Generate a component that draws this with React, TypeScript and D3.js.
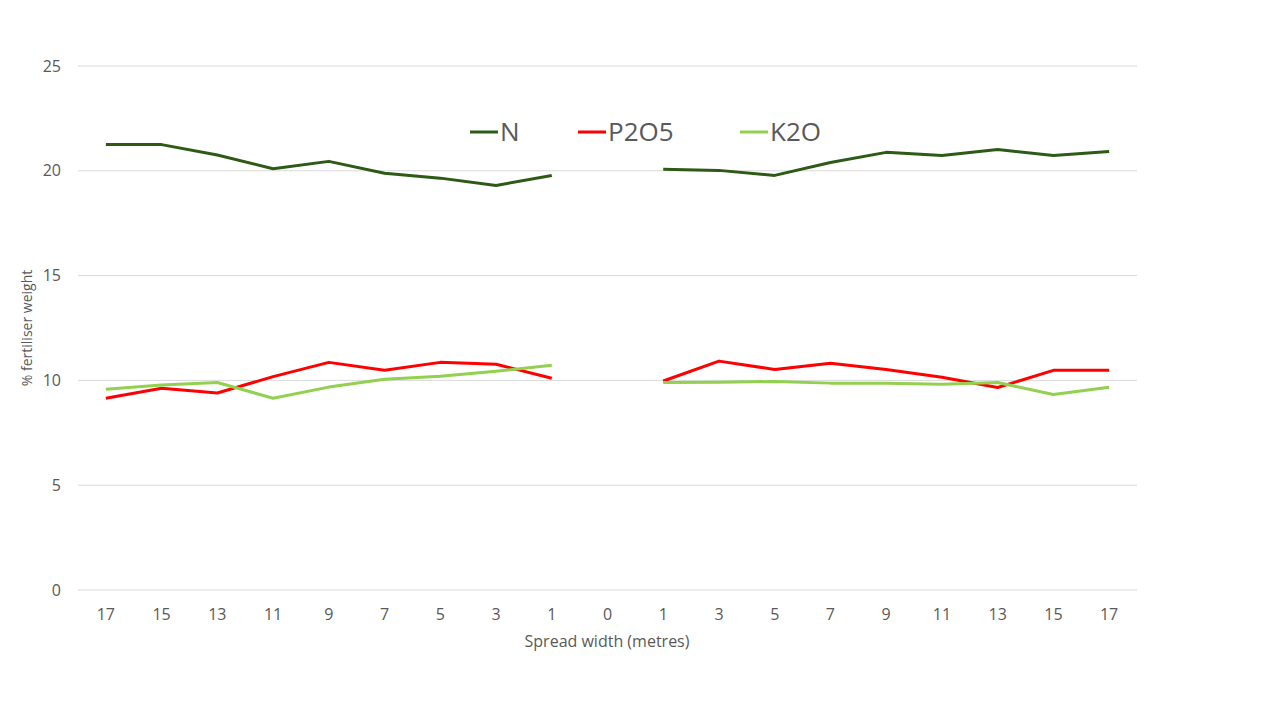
import * as d3 from "d3";

const categories = ["17L","15L","13L","11L","9L","7L","5L","3L","1L","0","1R","3R","5R","7R","9R","11R","13R","15R","17R"];
const tickLabels = ["17","15","13","11","9","7","5","3","1","0","1","3","5","7","9","11","13","15","17"];
const nValues = [21.25,21.25,20.75,20.1,20.45,19.88,19.65,19.3,19.78,null,20.07,20.02,19.78,20.4,20.88,20.73,21.02,20.73,20.92];
const p2o5Values = [9.15,9.63,9.4,10.18,10.86,10.48,10.86,10.77,10.1,null,9.97,10.92,10.52,10.82,10.52,10.15,9.66,10.48,10.48];
const k2oValues = [9.58,9.78,9.9,9.15,9.68,10.05,10.2,10.44,10.72,null,9.9,9.91,9.95,9.87,9.86,9.82,9.9,9.33,9.67];
const yTicks = [0,5,10,15,20,25];

const series = [
  { name: "N", values: nValues, color: "#2d5a14" },
  { name: "P2O5", values: p2o5Values, color: "#ff0000" },
  { name: "K2O", values: k2oValues, color: "#92d050" },
];

export default function App() {
  const W = 1280, H = 720;
  const left = 78, right = 1137, top = 66, bottom = 590;
  const x = d3.scaleBand<string>().domain(categories).range([left, right]);
  const y = d3.scaleLinear().domain([0, 25]).range([bottom, top]);
  const font = "'Open Sans', sans-serif";
  const line = d3.line<number | null>()
    .defined((d) => d !== null)
    .x((_, i) => x(categories[i])! + x.bandwidth() / 2)
    .y((d) => y(d as number));
  const legendX = [470, 578, 740];
  return (
    <svg width={W} height={H} style={{ position: "absolute", left: 0, top: 0, background: "#fff" }}>
      {yTicks.map((t) => (
        <g key={t}>
          <line x1={left} x2={right} y1={y(t)} y2={y(t)} stroke="#d9d9d9" strokeWidth={1} />
          <text x={61} y={y(t)} dy="0.35em" textAnchor="end" fontSize={16} fill="#595959" fontFamily={font}>{t}</text>
        </g>
      ))}
      {categories.map((c, i) => (
        <text key={c} x={x(c)! + x.bandwidth() / 2} y={614} dy="0.35em" textAnchor="middle" fontSize={16} fill="#595959" fontFamily={font}>{tickLabels[i]}</text>
      ))}
      {series.map((s) => (
        <path key={s.name} d={line(s.values) ?? ""} fill="none" stroke={s.color} strokeWidth={3} strokeLinejoin="round" />
      ))}
      {series.map((s, i) => (
        <g key={s.name}>
          <line x1={legendX[i]} x2={legendX[i] + 28} y1={132} y2={132} stroke={s.color} strokeWidth={3} />
          <text x={legendX[i] + 30} y={132} dy="0.35em" fontSize={26} fill="#595959" fontFamily={font}>{s.name}</text>
        </g>
      ))}
      <text x={607} y={641} dy="0.35em" textAnchor="middle" fontSize={16} fill="#595959" fontFamily={font}>Spread width (metres)</text>
      <text transform="translate(27,328) rotate(-90)" dy="0.35em" textAnchor="middle" fontSize={14} fill="#595959" fontFamily={font}>% fertiliser weight</text>
    </svg>
  );
}
